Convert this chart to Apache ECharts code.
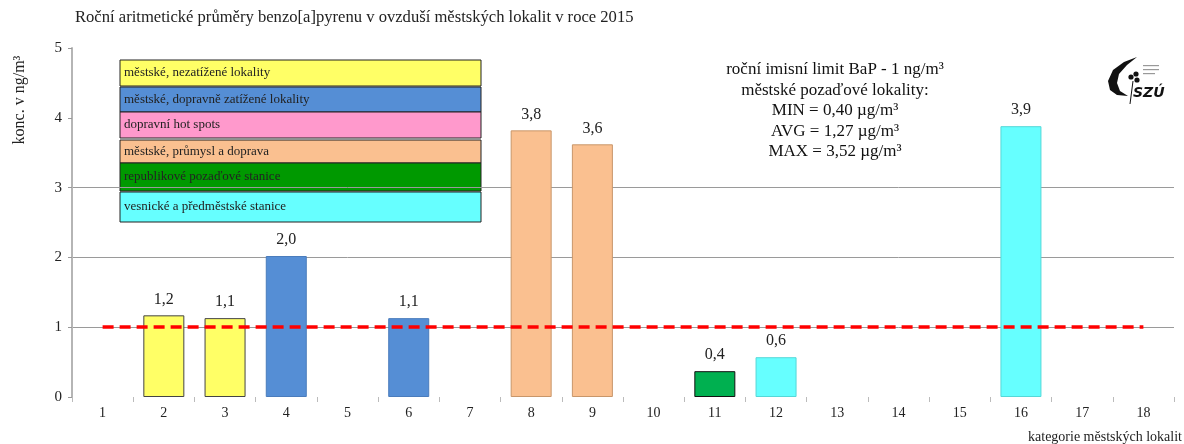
<!DOCTYPE html>
<html>
<head>
<meta charset="utf-8">
<script src="https://cdn.jsdelivr.net/npm/echarts@6/dist/echarts.min.js"></script>
<style>
  html, body { margin: 0; padding: 0; background: #fff; }
  #chart { width: 1184px; height: 444px; }
</style>
</head>
<body>
<div id="chart"></div>
<script>
// Urban site categories on the x axis
const categories = ['1','2','3','4','5','6','7','8','9','10','11','12','13','14','15','16','17','18'];
// Annual mean BaP concentration per category (ng/m3); null = no data
const values = [null, 1.17, 1.13, 2.02, null, 1.13, null, 3.82, 3.62, null, 0.37, 0.57, null, null, null, 3.88, null, null];
// Site type of each category (index into siteTypes)
const typeOfCategory = [null, 0, 0, 1, null, 1, null, 3, 3, null, 4, 5, null, null, null, 5, null, null];
// Site types shown in the key
const siteTypes = [
  'městské, nezatížené lokality',
  'městské, dopravně zatížené lokality',
  'dopravní hot spots',
  'městské, průmysl a doprava',
  'republikové pozaďové stanice',
  'vesnické a předměstské stanice'
];
const yTicks = [0, 1, 2, 3, 4, 5];
const limitValue = 1;
const infoLines = [
  'roční imisní limit BaP - 1 ng/m³',
  'městské pozaďové lokality:',
  'MIN = 0,40 µg/m³',
  'AVG = 1,27 µg/m³',
  'MAX = 3,52 µg/m³'
];
const titleText = 'Roční aritmetické průměry benzo[a]pyrenu v ovzduší městských lokalit v roce 2015';

const FONT = '"Liberation Serif", "DejaVu Serif", serif';
const barColors = ['#FFFF66', '#558ED5', '#FF99CC', '#FAC090', '#00B050', '#66FFFF'];
const barBorders = ['#444', '#4a7cbc', '#c77', '#c8966a', '#111', '#55d8d8'];
const keyColors = ['#FFFF66', '#558ED5', '#FF99CC', '#FAC090', '#009900', '#66FFFF'];

const chart = echarts.init(document.getElementById('chart'));

const barData = values.map((v, i) => {
  if (v == null) return null;
  const t = typeOfCategory[i];
  return {
    value: v,
    itemStyle: { color: barColors[t], borderColor: barBorders[t], borderWidth: 1 }
  };
});

// Key box: stacked coloured rows with the site-type names
const keyRows = [[60, 26], [87, 25], [112, 26], [140, 23], [163, 28], [192, 30]];
const keyGraphics = siteTypes.map((name, i) => ({
  type: 'group',
  children: [
    { type: 'rect', shape: { x: 120, y: keyRows[i][0], width: 361, height: keyRows[i][1] },
      style: { fill: keyColors[i], stroke: '#222', lineWidth: 1 } },
    { type: 'text', x: 124, y: keyRows[i][0] + keyRows[i][1] / 2,
      style: { text: name, font: '13px ' + FONT, fill: '#222', verticalAlign: 'middle' } }
  ]
}));

const infoGraphics = infoLines.map((line, i) => ({
  type: 'text', x: 835, y: 70 + i * 20.5,
  style: { text: line, font: '17px ' + FONT, fill: '#111', align: 'center', verticalAlign: 'middle' }
}));

chart.setOption({
  animation: false,
  backgroundColor: '#fff',
  grid: { left: 72, right: 10, top: 48, bottom: 47, containLabel: false },
  xAxis: {
    type: 'category',
    data: categories,
    axisLine: { show: false },
    axisTick: { show: true, length: 5, lineStyle: { color: '#bbb', width: 1 } },
    axisLabel: { fontFamily: FONT, fontSize: 14, color: '#222', margin: 9 },
    splitLine: { show: false }
  },
  yAxis: {
    type: 'value',
    min: 0, max: 5, interval: 1,
    axisLine: { show: true, lineStyle: { color: '#b5b5b5', width: 2 } },
    axisTick: { show: true, length: 4, lineStyle: { color: '#999' } },
    axisLabel: { fontFamily: FONT, fontSize: 15, color: '#222', margin: 10,
      formatter: v => yTicks.includes(v) ? String(v) : '' },
    splitLine: { show: true, lineStyle: { color: ['transparent', '#9a9a9a', '#9a9a9a', '#9a9a9a', 'transparent', 'transparent'], width: 1 } }
  },
  series: [{
    type: 'bar',
    data: barData,
    barWidth: 41,
    label: {
      show: true, position: 'top', distance: 8,
      fontFamily: FONT, fontSize: 16, color: '#222',
      formatter: p => p.value.toFixed(1).replace('.', ',')
    },
    markLine: {
      silent: true,
      symbol: 'none',
      z: 10,
      label: { show: false },
      lineStyle: { color: '#FF0000', width: 3.5, type: [11, 6] },
      data: [[{ coord: [categories[0], limitValue] }, { coord: [categories[categories.length - 1], limitValue] }]]
    }
  }],
  graphic: [
    { type: 'text', x: 75, y: 18,
      style: { text: titleText, font: '16.6px ' + FONT, fill: '#222', verticalAlign: 'middle' } },
    { type: 'text', x: 20, y: 100, rotation: Math.PI / 2,
      style: { text: 'konc. v ng/m³', font: '16px ' + FONT, fill: '#222', align: 'center', verticalAlign: 'middle' } },
    { type: 'text', x: 1182, y: 437,
      style: { text: 'kategorie městských lokalit', font: '14px ' + FONT, fill: '#222', align: 'right', verticalAlign: 'middle' } },
    ...keyGraphics,
    ...infoGraphics,
    // SZÚ emblem
    { type: 'group', x: 1105, y: 56, children: [
      { type: 'polygon', shape: { points: [[32, 1], [19, 6], [8, 14], [3, 25], [5, 34], [12, 39], [23, 40], [15, 35], [12, 27], [14, 18], [22, 9]] },
        style: { fill: '#111' } },
      { type: 'circle', shape: { cx: 26, cy: 21, r: 2.6 }, style: { fill: '#111' } },
      { type: 'circle', shape: { cx: 31, cy: 18, r: 2.6 }, style: { fill: '#111' } },
      { type: 'circle', shape: { cx: 32, cy: 24, r: 2.6 }, style: { fill: '#111' } },
      { type: 'line', shape: { x1: 28, y1: 25, x2: 25, y2: 48 }, style: { stroke: '#111', lineWidth: 1 } },
      { type: 'text', x: 28, y: 30, style: { text: 'SZÚ', font: 'italic bold 14px "DejaVu Sans", sans-serif', fill: '#111' } },
      { type: 'rect', shape: { x: 38, y: 9, width: 16, height: 1.2 }, style: { fill: '#999' } },
      { type: 'rect', shape: { x: 38, y: 13, width: 16, height: 1.2 }, style: { fill: '#999' } },
      { type: 'rect', shape: { x: 38, y: 17, width: 12, height: 1.2 }, style: { fill: '#999' } }
    ] }
  ]
});
</script>
</body>
</html>
